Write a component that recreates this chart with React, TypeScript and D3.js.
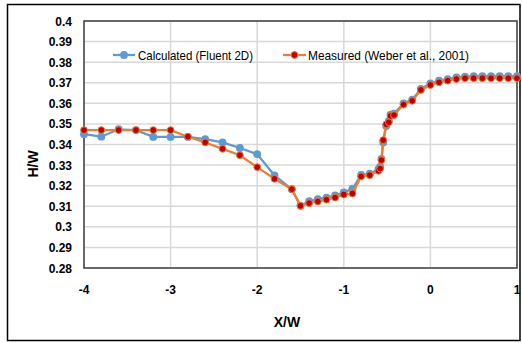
import React from 'react';
import * as d3 from 'd3';

// X/W positions (shared by both series)
const xPos = [
  -4, -3.8, -3.6, -3.4, -3.2, -3.0, -2.8, -2.6, -2.4, -2.2, -2.0, -1.8, -1.6, -1.5,
  -1.4, -1.3, -1.2, -1.1, -1.0, -0.9, -0.8, -0.7, -0.6, -0.58, -0.565, -0.545,
  -0.51, -0.48, -0.46, -0.42, -0.31, -0.21, -0.11, 0, 0.1, 0.2, 0.3, 0.4, 0.5,
  0.6, 0.7, 0.8, 0.9, 1.0,
];

const measured = [
  0.347, 0.347, 0.347, 0.347, 0.347, 0.347, 0.3438, 0.341, 0.3379, 0.3348, 0.329,
  0.3233, 0.3183, 0.3102, 0.3115, 0.3123, 0.3132, 0.3142, 0.3157, 0.3162, 0.3245,
  0.3251, 0.3272, 0.3283, 0.3324, 0.3421, 0.3498, 0.3508, 0.3539, 0.3543, 0.3594,
  0.3612, 0.3665, 0.3689, 0.3702, 0.371, 0.3718, 0.3722, 0.3722, 0.3722, 0.3722,
  0.3722, 0.3722, 0.3722,
];

const calculated = [
  0.345, 0.3438, 0.3474, 0.347, 0.3437, 0.3437, 0.3437, 0.3426, 0.341, 0.3383,
  0.3353, 0.325, 0.3183, 0.3102, 0.3125, 0.3135, 0.3142, 0.3153, 0.3167, 0.3185,
  0.3252, 0.3258, 0.328, 0.3292, 0.333, 0.341, 0.349, 0.3515, 0.3545, 0.355, 0.36,
  0.3618, 0.367, 0.3697, 0.371, 0.3718, 0.3726, 0.373, 0.3732, 0.3732, 0.3732,
  0.3732, 0.3732, 0.3732,
];

const xTicks = [-4, -3, -2, -1, 0, 1];
const yTicks = [0.28, 0.29, 0.3, 0.31, 0.32, 0.33, 0.34, 0.35, 0.36, 0.37, 0.38, 0.39, 0.4];

const seriesNames = ['Calculated (Fluent 2D)', 'Measured (Weber et al., 2001)'];

const BLUE = '#5B9BD5';
const ORANGE = '#ED7D31';
const DARKRED = '#C00000';
const FONT = '"Liberation Sans", Arial, sans-serif';
const NARROW = '"Liberation Sans Narrow", "Liberation Sans", Arial, sans-serif';

export default function App() {
  const width = 522;
  const height = 343;
  const margin = { left: 84, right: 5, top: 21, bottom: 75 };

  const x = d3.scaleLinear().domain([-4, 1]).range([margin.left, width - margin.right]);
  const y = d3.scaleLinear().domain([0.28, 0.4]).range([height - margin.bottom, margin.top]);

  const line = d3
    .line<number>()
    .x((_, i) => x(xPos[i]))
    .y(d => y(d));

  const [x0, x1] = x.range();
  const [yB, yT] = y.range();

  return (
    <svg width={width} height={height} style={{ position: 'absolute', left: 0, top: 0 }}>
      <rect x={0} y={0} width={width} height={height} fill="#fff" />
      <rect x={7.5} y={4.5} width={512.5} height={336} fill="none" stroke="#000" strokeWidth={1.5} />

      {/* gridlines */}
      {yTicks.map(t => (
        <line key={'gy' + t} x1={x0} x2={x1} y1={y(t)} y2={y(t)} stroke="#d9d9d9" strokeWidth={1.5} />
      ))}
      {xTicks.map(t => (
        <line key={'gx' + t} x1={x(t)} x2={x(t)} y1={yT} y2={yB} stroke="#d9d9d9" strokeWidth={1.5} />
      ))}

      {/* plot frame */}
      <rect x={x0} y={yT} width={x1 - x0} height={yB - yT} fill="none" stroke="#404040" strokeWidth={1.5} />

      {/* y tick labels */}
      {yTicks.map(t => (
        <text
          key={'ty' + t}
          x={72}
          y={y(t) + 4.5}
          textAnchor="end"
          fontFamily={FONT}
          fontWeight="bold"
          fontSize={12}
          fill="#000"
        >
          {d3.format('')(+t.toFixed(2))}
        </text>
      ))}
      {/* x tick labels */}
      {xTicks.map(t => (
        <text
          key={'tx' + t}
          x={x(t)}
          y={294}
          textAnchor="middle"
          fontFamily={FONT}
          fontWeight="bold"
          fontSize={12}
          fill="#000"
        >
          {t}
        </text>
      ))}

      {/* axis titles */}
      <text x={287} y={327} textAnchor="middle" fontFamily={FONT} fontWeight="bold" fontSize={14}>
        X/W
      </text>
      <text
        transform="translate(38,164) rotate(-90)"
        textAnchor="middle"
        fontFamily={FONT}
        fontWeight="bold"
        fontSize={14}
      >
        H/W
      </text>

      {/* calculated series */}
      <path d={line(calculated) || ''} fill="none" stroke={BLUE} strokeWidth={2.25} />
      {calculated.map((v, i) => (
        <circle key={'c' + i} cx={x(xPos[i])} cy={y(v)} r={3.9} fill={BLUE} />
      ))}

      {/* measured series */}
      <path d={line(measured) || ''} fill="none" stroke={ORANGE} strokeWidth={2.25} />
      {measured.map((v, i) => (
        <circle key={'m' + i} cx={x(xPos[i])} cy={y(v)} r={3.4} fill={DARKRED} stroke={ORANGE} strokeWidth={1} />
      ))}

      {/* legend */}
      <g>
        <line x1={113} x2={135} y1={55} y2={55} stroke={BLUE} strokeWidth={2.25} />
        <circle cx={124} cy={55} r={3.9} fill={BLUE} />
        <text x={138} y={59.5} fontFamily={NARROW} fontSize={13} textLength={115} lengthAdjust="spacingAndGlyphs">
          {seriesNames[0]}
        </text>
        <line x1={283} x2={306} y1={55} y2={55} stroke={ORANGE} strokeWidth={2.25} />
        <circle cx={294.5} cy={55} r={3.4} fill={DARKRED} stroke={ORANGE} strokeWidth={1} />
        <text x={308} y={59.5} fontFamily={NARROW} fontSize={13} textLength={161} lengthAdjust="spacingAndGlyphs">
          {seriesNames[1]}
        </text>
      </g>
    </svg>
  );
}
